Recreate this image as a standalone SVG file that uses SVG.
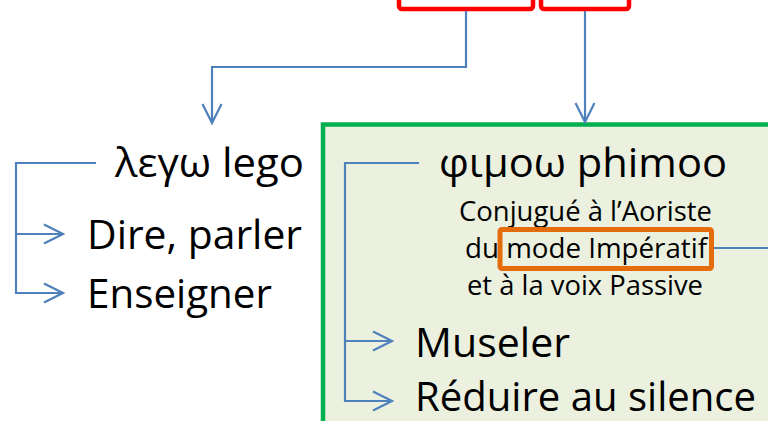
<svg xmlns="http://www.w3.org/2000/svg" width="768" height="421" viewBox="0 0 768 421">
<style>
.big{font-family:"Open Sans","Noto Sans","Liberation Sans",sans-serif;font-size:41px;fill:#000}
.small{font-family:"Open Sans","Noto Sans","Liberation Sans",sans-serif;font-size:27px;fill:#000}
.red{fill:#fff;stroke:#FF0000;stroke-width:4.5}
.conn{fill:none;stroke:#4F81BD;stroke-width:2.2}
</style>
<defs>
<marker id="arr" markerUnits="userSpaceOnUse" viewBox="-22 -12 24 24" markerWidth="24" markerHeight="24" refX="0" refY="0" orient="auto">
<path d="M-19,-9.5 L0,0 L-19,9.5" fill="none" stroke="#4F81BD" stroke-width="2.2" stroke-linejoin="miter"/>
</marker>
</defs>
<rect width="768" height="421" fill="#fff"/>
<g id="red-box-1"><rect class="red" x="399" y="-20" width="134" height="29" rx="3"/></g>
<g id="red-box-2"><rect class="red" x="541" y="-20" width="88" height="29" rx="3"/></g>
<g id="lego-node">
<text class="big" x="115" y="177" textLength="189" lengthAdjust="spacingAndGlyphs">λεγω lego</text>
<text class="big" x="87" y="249" textLength="215" lengthAdjust="spacingAndGlyphs">Dire, parler</text>
<text class="big" x="87" y="308" textLength="185" lengthAdjust="spacingAndGlyphs">Enseigner</text>
</g>
<g id="phimoo-node">
<rect x="323" y="124.5" width="470" height="320" fill="#EBF1DE" stroke="#00B050" stroke-width="4.5"/>
<text class="big" x="439" y="177" textLength="288" lengthAdjust="spacingAndGlyphs">φιμοω phimoo</text>
<text class="small" x="459" y="221" textLength="253" lengthAdjust="spacingAndGlyphs">Conjugué à l’Aoriste</text>
<text class="small" x="465" y="258" textLength="242" lengthAdjust="spacingAndGlyphs">du mode Impératif</text>
<text class="small" x="467" y="295" textLength="236" lengthAdjust="spacingAndGlyphs">et à la voix Passive</text>
<text class="big" x="415" y="357" textLength="155" lengthAdjust="spacingAndGlyphs">Museler</text>
<text class="big" x="415" y="411" textLength="341" lengthAdjust="spacingAndGlyphs">Réduire au silence</text>
</g>
<g id="imperatif-box"><rect x="500" y="229.5" width="211.5" height="39" rx="2" fill="none" stroke="#E46C0A" stroke-width="5"/></g>
<g id="connectors">
<path class="conn" d="M466,11 V67 H212 V123" marker-end="url(#arr)"/>
<path class="conn" d="M585,11 V122" marker-end="url(#arr)"/>
<path class="conn" d="M96,163 H16 V293 H63" marker-end="url(#arr)"/>
<path class="conn" d="M16,234 H63" marker-end="url(#arr)"/>
<path class="conn" d="M419,163 H345 V401 H392" marker-end="url(#arr)"/>
<path class="conn" d="M345,341 H392" marker-end="url(#arr)"/>
<path class="conn" d="M714,248 H770"/>
</g>
</svg>
